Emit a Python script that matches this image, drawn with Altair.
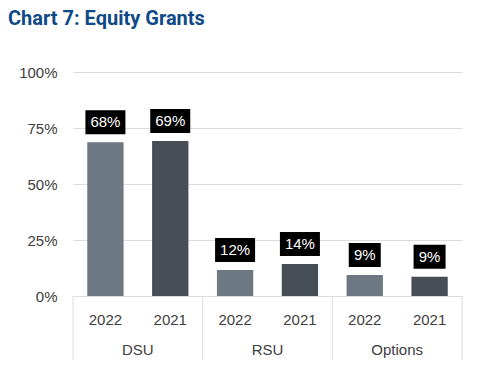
import altair as alt
import pandas as pd

groups = ["DSU", "DSU", "RSU", "RSU", "Options", "Options"]
years = ["2022", "2021", "2022", "2021", "2022", "2021"]
shares = [0.686, 0.692, 0.116, 0.143, 0.094, 0.086]
labels = ["68%", "69%", "12%", "14%", "9%", "9%"]

group_order = ["DSU", "RSU", "Options"]
year_order = ["2022", "2021"]
bar_colors = ["#6d7982", "#474e56"]

df = pd.DataFrame({"group": groups, "year": years, "share": shares, "label": labels})
sep_df = pd.DataFrame({"group": group_order})

W, H = 389, 224
FONT = "Liberation Sans"
GRID = "#dcdcdc"

xscale = alt.Scale(paddingInner=0, paddingOuter=0)
xaxis = alt.Axis(title=None, orient="bottom", labelAngle=0, domain=True,
                 domainColor=GRID, domainWidth=1, ticks=False, labelPadding=46,
                 labelFont=FONT, labelFontSize=15, labelColor="#404040", grid=False)
xenc = alt.X("group:N", sort=group_order, scale=xscale, axis=xaxis)
xoff = alt.XOffset("year:N", sort=year_order,
                   scale=alt.Scale(paddingInner=0.44, paddingOuter=0.22))
yscale = alt.Scale(domain=[0, 1])
yaxis = alt.Axis(title=None, values=[0, 0.25, 0.5, 0.75, 1.0], format=".0%",
                 domain=False, ticks=False, labelPadding=16, grid=True,
                 gridColor=GRID, gridWidth=1, labelFont=FONT, labelFontSize=15,
                 labelColor="#404040")

base = alt.Chart(df)

bars = base.mark_bar().encode(
    x=xenc, xOffset=xoff,
    y=alt.Y("share:Q", scale=yscale, axis=yaxis),
    color=alt.Color("year:N", scale=alt.Scale(domain=year_order, range=bar_colors), legend=None),
)

boxes = base.transform_calculate(
    lo=f"datum.share + {8 / H}",
    hi=f"datum.share + {32 / H}",
    bw="length(datum.label) > 2 ? 40 : 32",
).mark_bar(color="black").encode(
    x=xenc, xOffset=xoff,
    y=alt.Y("lo:Q", scale=yscale, axis=yaxis),
    y2="hi:Q",
    size=alt.Size("bw:Q", scale=None, legend=None),
)

box_text = base.transform_calculate(
    mid=f"datum.share + {20 / H}"
).mark_text(color="white", font=FONT, fontSize=15, baseline="middle").encode(
    x=xenc, xOffset=xoff,
    y=alt.Y("mid:Q", scale=yscale, axis=yaxis),
    text="label:N",
)

year_text = base.mark_text(color="#404040", font=FONT, fontSize=15, baseline="middle").encode(
    x=xenc, xOffset=xoff,
    y=alt.value(H + 24),
    text="year:N",
)

sep_left = alt.Chart(sep_df).mark_rule(color=GRID, strokeWidth=1).encode(
    x=alt.X("group:N", sort=group_order, scale=xscale, axis=xaxis, bandPosition=0),
    y=alt.value(H), y2=alt.value(H + 64),
)
sep_right = alt.Chart(sep_df).transform_filter(
    alt.datum.group == "Options"
).mark_rule(color=GRID, strokeWidth=1).encode(
    x=alt.X("group:N", sort=group_order, scale=xscale, axis=xaxis, bandPosition=1),
    y=alt.value(H), y2=alt.value(H + 64),
)

chart = alt.layer(bars, boxes, box_text, year_text, sep_left, sep_right).properties(
    width=W, height=H,
    autosize=alt.AutoSizeParams(type="none"),
    padding={"left": 65, "top": 64, "right": 10, "bottom": 70},
    title=alt.Title("Chart 7: Equity Grants", anchor="start", frame="group",
                    dx=-65, dy=-32,
                    font="Roboto", fontSize=20, fontWeight="bold", color="#0f4a88"),
).configure_view(stroke=None)

chart.save("out.html", embed_options={"renderer": "svg", "actions": False})
